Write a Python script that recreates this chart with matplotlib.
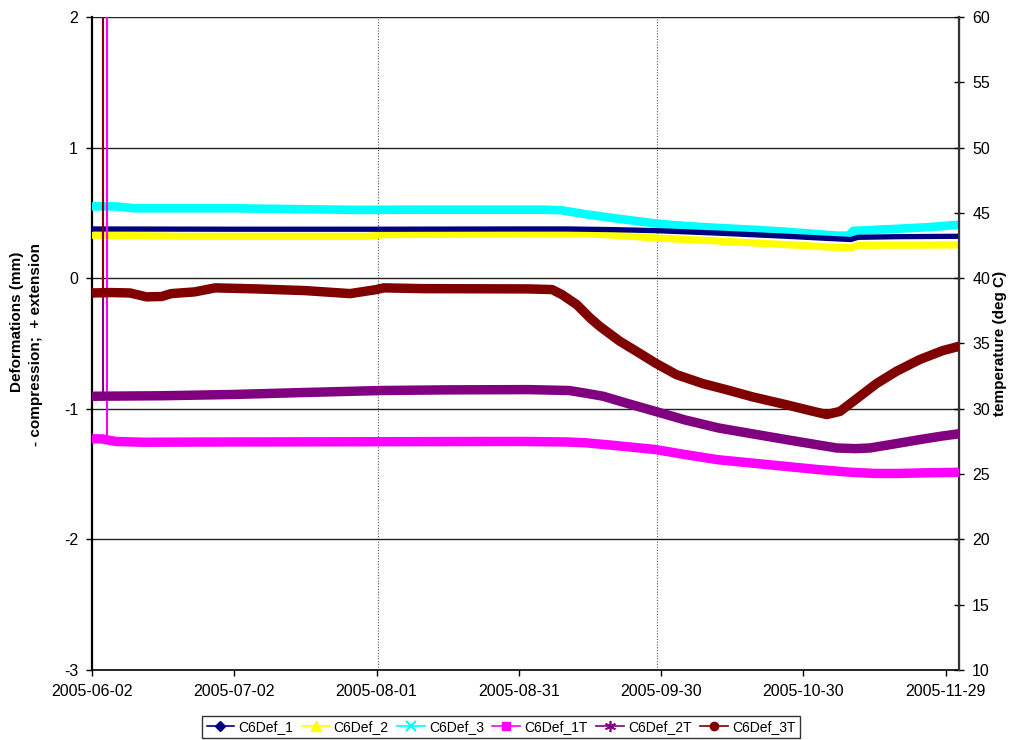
import matplotlib
matplotlib.use("Agg")
import matplotlib.pyplot as plt
from matplotlib.lines import Line2D

plt.rcParams["font.family"] = ["Liberation Sans", "DejaVu Sans"]
plt.rcParams["axes.unicode_minus"] = False

# days since 2005-06-02
DATE_TICKS = [0, 30, 60, 90, 120, 150, 180]
DATE_LABELS = ["2005-06-02", "2005-07-02", "2005-08-01", "2005-08-31",
               "2005-09-30", "2005-10-30", "2005-11-29"]
DOTTED_DAYS = [60.3, 119.1]

# deformations (mm), left axis
def1_days = [0, 30, 60, 90, 100, 110, 119, 132, 146.5, 155, 160, 161.5, 170, 183]
def1_vals = [0.377, 0.375, 0.375, 0.377, 0.377, 0.372, 0.364, 0.345, 0.321, 0.305,
             0.296, 0.313, 0.318, 0.321]

def2_days = [0, 10, 20, 40, 58, 62, 80, 95, 104, 110, 119, 132, 146.5, 155, 160,
             161.5, 170, 183]
def2_vals = [0.329, 0.325, 0.321, 0.321, 0.321, 0.334, 0.337, 0.34, 0.34, 0.33,
             0.308, 0.285, 0.257, 0.24, 0.232, 0.252, 0.253, 0.255]

def3_days = [0, 5, 9, 15, 30, 45, 56, 70, 85, 95, 99, 104, 110, 119, 125, 132, 140,
             146.5, 152, 157, 159.5, 160.5, 168, 176, 183]
def3_vals = [0.55, 0.55, 0.535, 0.535, 0.535, 0.528, 0.523, 0.525, 0.525, 0.525,
             0.52, 0.49, 0.46, 0.418, 0.40, 0.385, 0.37, 0.355, 0.34, 0.326, 0.325,
             0.362, 0.375, 0.39, 0.41]

# temperatures (deg C), right axis
t1_days = [0, 2, 5, 10.7, 30, 60, 90, 100, 104, 110, 118.8, 125, 132, 139, 146, 153,
           160, 165, 170, 176, 183]
t1_vals = [27.7, 27.7, 27.5, 27.44, 27.46, 27.48, 27.5, 27.46, 27.4, 27.2, 26.88,
           26.5, 26.1, 25.85, 25.6, 25.35, 25.14, 25.05, 25.05, 25.1, 25.14]

t2_days = [0, 15, 30, 45, 61, 75, 92, 100.6, 104, 107.8, 113, 118.8, 125, 132, 139,
           146.4, 152, 157, 161, 164, 169, 174.5, 179, 183]
t2_vals = [30.96, 31.0, 31.1, 31.25, 31.4, 31.45, 31.47, 31.4, 31.2, 30.96, 30.4,
           29.8, 29.15, 28.54, 28.1, 27.64, 27.3, 27.0, 26.95, 27.0, 27.3, 27.64,
           27.9, 28.1]

t3_days = [0, 4, 8, 11.5, 14.7, 16.7, 21.6, 26, 34.7, 45, 54.4, 60, 61.5, 70, 92,
           97, 99.1, 102.2, 105, 107.1, 111.3, 114.8, 118.8, 123.2, 128.8, 133.7,
           139.3, 146.3, 152, 154.9, 157.7, 160.5, 165.4, 169.6, 174.5, 179.4, 183]
t3_vals = [38.87, 38.9, 38.87, 38.57, 38.6, 38.82, 38.95, 39.26, 39.18, 39.05, 38.82,
           39.13, 39.26, 39.2, 39.18, 39.13, 38.74, 37.98, 36.96, 36.3, 35.17, 34.4,
           33.5, 32.62, 31.93, 31.47, 30.91, 30.32, 29.81, 29.56, 29.8, 30.57, 31.93,
           32.87, 33.77, 34.46, 34.8]

# single bad readings at the start (shoot off the top of the chart)
spike_days = {"C6Def_1T": 3.2, "C6Def_2T": 2.4, "C6Def_3T": 2.4}
SPIKE_TOP = 100

fig = plt.figure(figsize=(10.17, 7.40), dpi=100)
ax = fig.add_axes([92 / 1017, 70 / 740, 867 / 1017, 653 / 740])
ax2 = ax.twinx()

for d in DOTTED_DAYS:
    ax.axvline(d, color="#555555", lw=0.8, ls=(0, (1, 1.5)), zorder=1)
for v in [-2, -1, 0, 1, 2]:
    ax.axhline(v, color="#222222", lw=1.0, zorder=1)

left_series = [
    ("C6Def_3", def3_days, def3_vals, "#00FFFF", 6.2),
    ("C6Def_2", def2_days, def2_vals, "#FFFF00", 5.2),
    ("C6Def_1", def1_days, def1_vals, "#000080", 3.8),
]
for name, x, y, c, lw in left_series:
    ax.plot(x, y, color=c, lw=lw, solid_capstyle="butt", solid_joinstyle="round", zorder=3)

right_series = [
    ("C6Def_1T", t1_days, t1_vals, "#FF00FF", 6.8),
    ("C6Def_2T", t2_days, t2_vals, "#800080", 6.8),
    ("C6Def_3T", t3_days, t3_vals, "#800000", 6.8),
]
for name, x, y, c, lw in right_series:
    d = spike_days[name]
    base = y[0] + (y[1] - y[0]) * (d - x[0]) / (x[1] - x[0])
    ax2.plot([d, d], [base, SPIKE_TOP], color=c, lw=1.5, zorder=2)
for name, x, y, c, lw in right_series:
    ax2.plot(x, y, color=c, lw=lw, solid_capstyle="butt", solid_joinstyle="round", zorder=3)

ax.set_xlim(0, 182.8)
ax.set_ylim(-3, 2)
ax2.set_ylim(10, 60)
ax.set_yticks([-3, -2, -1, 0, 1, 2])
ax2.set_yticks(range(10, 61, 5))
ax.set_xticks(DATE_TICKS)
ax.set_xticklabels(DATE_LABELS)

for a in (ax, ax2):
    a.spines["top"].set_visible(False)
ax.spines["left"].set_linewidth(1.6)
ax.spines["left"].set_color("black")
ax.spines["bottom"].set_linewidth(1.2)
ax2.spines["right"].set_linewidth(1.6)
ax2.spines["right"].set_color("#333333")
ax2.spines["left"].set_visible(False)
ax2.spines["bottom"].set_visible(False)

ax.tick_params(axis="y", direction="out", length=4, width=1, labelsize=11.5, pad=6)
ax.tick_params(axis="x", direction="out", length=4, width=1, labelsize=11.5, pad=6)
ax2.tick_params(axis="y", direction="inout", length=7, width=1, labelsize=11.5, pad=6)

fig.text(17 / 1017, 1 - 322 / 740, "Deformations (mm)", rotation=90, ha="center",
         va="center", fontsize=11, fontweight="bold")
fig.text(36 / 1017, 1 - 345 / 740, "- compression;  + extension", rotation=90,
         ha="center", va="center", fontsize=11, fontweight="bold")
fig.text(1000 / 1017, 1 - 343 / 740, "temperature (deg C)", rotation=90, ha="center",
         va="center", fontsize=11, fontweight="bold")

handles = [
    Line2D([], [], color="#000080", marker="D", ms=5, lw=1.2, label="C6Def_1"),
    Line2D([], [], color="#FFFF00", marker="^", ms=7, lw=1.2, label="C6Def_2"),
    Line2D([], [], color="#00FFFF", marker="x", ms=7, mew=1.5, lw=1.2, label="C6Def_3"),
    Line2D([], [], color="#FF00FF", marker="s", ms=6, lw=1.2, label="C6Def_1T"),
    Line2D([], [], color="#800080", marker=(6, 2, 0), ms=8, mew=1.2, lw=1.2, label="C6Def_2T"),
    Line2D([], [], color="#800000", marker="o", ms=6, lw=1.2, label="C6Def_3T"),
]
leg = fig.legend(handles=handles, loc="center", bbox_to_anchor=(501 / 1017, 1 - 727 / 740),
                 ncol=6, fontsize=10, frameon=True, fancybox=False, handlelength=2.0,
                 handletextpad=0.3, columnspacing=0.6, borderpad=0.3)
leg.get_frame().set_edgecolor("black")
leg.get_frame().set_linewidth(1.0)

fig.savefig("out.png", dpi=100)
